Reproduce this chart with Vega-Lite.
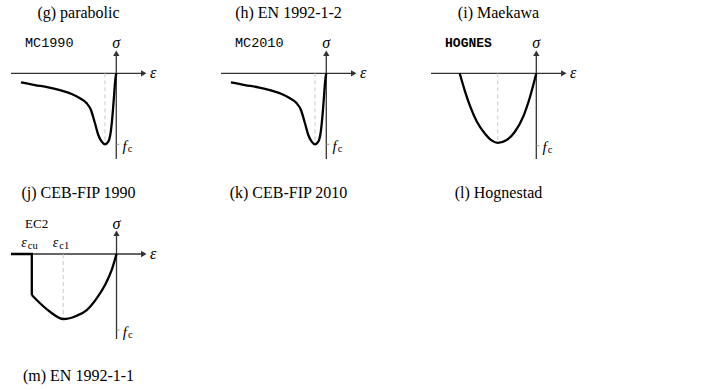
{
  "$schema": "https://vega.github.io/schema/vega-lite/v6.json",
  "background": "white",
  "padding": {"left": 0, "top": 5, "right": 5, "bottom": 5},
  "columns": 3,
  "spacing": {"row": 40, "column": 10},
  "bounds": "flush",
  "config": {
    "view": {"stroke": null},
    "title": {"font": "Liberation Serif", "fontSize": 16, "fontWeight": "normal", "color": "#000"}
  },
  "datasets": {
    "mc1990": [
      {"strain": -18.56, "stress": -0.127}, {"strain": -15.83, "stress": -0.165},
      {"strain": -13.24, "stress": -0.197}, {"strain": -10.63, "stress": -0.245},
      {"strain": -8.68, "stress": -0.292}, {"strain": -7.07, "stress": -0.352},
      {"strain": -5.76, "stress": -0.423}, {"strain": -4.93, "stress": -0.517},
      {"strain": -4.15, "stress": -0.704}, {"strain": -3.5, "stress": -0.869},
      {"strain": -2.84, "stress": -0.963}, {"strain": -2.2, "stress": -1.0},
      {"strain": -1.56, "stress": -0.963}, {"strain": -1.03, "stress": -0.799},
      {"strain": -0.7, "stress": -0.563}, {"strain": -0.45, "stress": -0.33},
      {"strain": -0.19, "stress": -0.094}, {"strain": 0, "stress": 0}
    ],
    "mc2010": [
      {"strain": -18.56, "stress": -0.127}, {"strain": -15.83, "stress": -0.165},
      {"strain": -13.24, "stress": -0.197}, {"strain": -10.63, "stress": -0.245},
      {"strain": -8.68, "stress": -0.292}, {"strain": -7.07, "stress": -0.352},
      {"strain": -5.76, "stress": -0.423}, {"strain": -4.93, "stress": -0.517},
      {"strain": -4.15, "stress": -0.704}, {"strain": -3.5, "stress": -0.869},
      {"strain": -2.84, "stress": -0.963}, {"strain": -2.2, "stress": -1.0},
      {"strain": -1.56, "stress": -0.963}, {"strain": -1.03, "stress": -0.799},
      {"strain": -0.7, "stress": -0.563}, {"strain": -0.45, "stress": -0.33},
      {"strain": -0.19, "stress": -0.094}, {"strain": 0, "stress": 0}
    ],
    "hognestad": [
      {"strain": -3.93, "stress": 0}, {"strain": -3.66, "stress": -0.25},
      {"strain": -3.4, "stress": -0.46}, {"strain": -3.06, "stress": -0.675},
      {"strain": -2.63, "stress": -0.85}, {"strain": -2.29, "stress": -0.945},
      {"strain": -1.98, "stress": -0.98}, {"strain": -1.52, "stress": -0.94},
      {"strain": -1.09, "stress": -0.82}, {"strain": -0.67, "stress": -0.61},
      {"strain": -0.32, "stress": -0.33}, {"strain": 0, "stress": 0}
    ],
    "ec2_cutoff": [
      {"strain": -4.36, "stress": 0, "step": 1},
      {"strain": -3.5, "stress": 0, "step": 2},
      {"strain": -3.5, "stress": -0.631, "step": 3}
    ],
    "ec2_curve": [
      {"strain": -3.5, "stress": -0.631}, {"strain": -3.16, "stress": -0.758},
      {"strain": -2.75, "stress": -0.888}, {"strain": -2.2, "stress": -1.0},
      {"strain": -1.64, "stress": -0.949}, {"strain": -1.23, "stress": -0.862},
      {"strain": -0.82, "stress": -0.682}, {"strain": -0.475, "stress": -0.477},
      {"strain": -0.198, "stress": -0.246}, {"strain": 0, "stress": 0}
    ]
  },
  "concat": [
    {
      "title": {"text": "(g) parabolic", "frame": "group", "anchor": "middle", "dx": -21.5, "offset": 9},
      "width": 200,
      "height": 140,
      "layer": [
        {"data": {"values": [{}]}, "mark": {"type": "rule", "color": "#333", "strokeWidth": 1.3},
         "encoding": {"x": {"datum": -20.5, "type": "quantitative", "scale": {"domain": [-22.64, 16.3], "nice": false, "zero": false}, "axis": null},
                      "x2": {"datum": 5.35},
                      "y": {"datum": 0, "type": "quantitative", "scale": {"domain": [-1.362, 0.61], "nice": false, "zero": false}, "axis": null}}},
        {"data": {"values": [{}]}, "mark": {"type": "rule", "color": "#333", "strokeWidth": 1.3},
         "encoding": {"x": {"datum": 0, "type": "quantitative", "axis": null}, "y": {"datum": 0.283, "type": "quantitative", "axis": null}, "y2": {"datum": -1.207}}},
        {"data": {"values": [{}]}, "mark": {"type": "point", "shape": "triangle-right", "filled": true, "size": 40, "color": "#333", "opacity": 1},
         "encoding": {"x": {"datum": 5.35, "type": "quantitative", "axis": null}, "y": {"datum": 0, "type": "quantitative", "axis": null}}},
        {"data": {"values": [{}]}, "mark": {"type": "point", "shape": "triangle-up", "filled": true, "size": 40, "color": "#333", "opacity": 1},
         "encoding": {"x": {"datum": 0, "type": "quantitative", "axis": null}, "y": {"datum": 0.283, "type": "quantitative", "axis": null}}},
        {"data": {"values": [{}]}, "mark": {"type": "rule", "color": "#c8c8c8", "strokeWidth": 1, "strokeDash": [4, 3]},
         "encoding": {"x": {"datum": -2.2, "type": "quantitative", "axis": null}, "y": {"datum": 0, "type": "quantitative", "axis": null}, "y2": {"datum": -1.0}}},
        {"data": {"values": [{}]}, "mark": {"type": "rule", "color": "#999", "strokeWidth": 1},
         "encoding": {"x": {"datum": 0, "type": "quantitative", "axis": null}, "x2": {"datum": 0.58}, "y": {"datum": -1.0, "type": "quantitative", "axis": null}}},
        {"data": {"name": "mc1990"}, "mark": {"type": "line", "interpolate": "monotone", "color": "#000", "strokeWidth": 2.3},
         "encoding": {"x": {"field": "strain", "type": "quantitative", "axis": null}, "y": {"field": "stress", "type": "quantitative", "axis": null}}},
        {"data": {"values": [{}]}, "mark": {"type": "text", "text": "σ", "font": "Liberation Serif", "fontStyle": "italic", "fontSize": 16, "align": "center", "baseline": "middle"},
         "encoding": {"x": {"datum": 0, "type": "quantitative", "axis": null}, "y": {"datum": 0.43, "type": "quantitative", "axis": null}}},
        {"data": {"values": [{}]}, "mark": {"type": "text", "text": "ε", "font": "Liberation Serif", "fontStyle": "italic", "fontSize": 16, "align": "center", "baseline": "middle"},
         "encoding": {"x": {"datum": 7.18, "type": "quantitative", "axis": null}, "y": {"datum": 0, "type": "quantitative", "axis": null}}},
        {"data": {"values": [{}]}, "mark": {"type": "text", "text": "MC1990", "font": "Liberation Mono", "fontSize": 13.5, "align": "left", "baseline": "middle"},
         "encoding": {"x": {"datum": -17.78, "type": "quantitative", "axis": null}, "y": {"datum": 0.43, "type": "quantitative", "axis": null}}},
        {"data": {"values": [{}]}, "mark": {"type": "text", "text": "f", "font": "Liberation Serif", "fontStyle": "italic", "fontSize": 15, "align": "center", "baseline": "middle", "dx": 8.2},
         "encoding": {"x": {"datum": 0, "type": "quantitative", "axis": null}, "y": {"datum": -1.02, "type": "quantitative", "axis": null}}},
        {"data": {"values": [{}]}, "mark": {"type": "text", "text": "c", "font": "Liberation Serif", "fontSize": 10.5, "align": "center", "baseline": "middle", "dx": 13.7, "dy": 3},
         "encoding": {"x": {"datum": 0, "type": "quantitative", "axis": null}, "y": {"datum": -1.02, "type": "quantitative", "axis": null}}},
        {"data": {"values": [{}]}, "mark": {"type": "text", "text": "(j) CEB-FIP 1990", "font": "Liberation Serif", "fontSize": 16, "align": "center", "baseline": "middle"},
         "encoding": {"x": {"datum": -7.36, "type": "quantitative", "axis": null}, "y": {"datum": -1.686, "type": "quantitative", "axis": null}}}
      ]
    },
    {
      "title": {"text": "(h) EN 1992-1-2", "frame": "group", "anchor": "middle", "dx": -21.5, "offset": 9},
      "width": 200,
      "height": 140,
      "layer": [
        {"data": {"values": [{}]}, "mark": {"type": "rule", "color": "#333", "strokeWidth": 1.3},
         "encoding": {"x": {"datum": -20.5, "type": "quantitative", "scale": {"domain": [-22.64, 16.3], "nice": false, "zero": false}, "axis": null},
                      "x2": {"datum": 5.35},
                      "y": {"datum": 0, "type": "quantitative", "scale": {"domain": [-1.362, 0.61], "nice": false, "zero": false}, "axis": null}}},
        {"data": {"values": [{}]}, "mark": {"type": "rule", "color": "#333", "strokeWidth": 1.3},
         "encoding": {"x": {"datum": 0, "type": "quantitative", "axis": null}, "y": {"datum": 0.283, "type": "quantitative", "axis": null}, "y2": {"datum": -1.207}}},
        {"data": {"values": [{}]}, "mark": {"type": "point", "shape": "triangle-right", "filled": true, "size": 40, "color": "#333", "opacity": 1},
         "encoding": {"x": {"datum": 5.35, "type": "quantitative", "axis": null}, "y": {"datum": 0, "type": "quantitative", "axis": null}}},
        {"data": {"values": [{}]}, "mark": {"type": "point", "shape": "triangle-up", "filled": true, "size": 40, "color": "#333", "opacity": 1},
         "encoding": {"x": {"datum": 0, "type": "quantitative", "axis": null}, "y": {"datum": 0.283, "type": "quantitative", "axis": null}}},
        {"data": {"values": [{}]}, "mark": {"type": "rule", "color": "#c8c8c8", "strokeWidth": 1, "strokeDash": [4, 3]},
         "encoding": {"x": {"datum": -2.2, "type": "quantitative", "axis": null}, "y": {"datum": 0, "type": "quantitative", "axis": null}, "y2": {"datum": -1.0}}},
        {"data": {"values": [{}]}, "mark": {"type": "rule", "color": "#999", "strokeWidth": 1},
         "encoding": {"x": {"datum": 0, "type": "quantitative", "axis": null}, "x2": {"datum": 0.58}, "y": {"datum": -1.0, "type": "quantitative", "axis": null}}},
        {"data": {"name": "mc2010"}, "mark": {"type": "line", "interpolate": "monotone", "color": "#000", "strokeWidth": 2.3},
         "encoding": {"x": {"field": "strain", "type": "quantitative", "axis": null}, "y": {"field": "stress", "type": "quantitative", "axis": null}}},
        {"data": {"values": [{}]}, "mark": {"type": "text", "text": "σ", "font": "Liberation Serif", "fontStyle": "italic", "fontSize": 16, "align": "center", "baseline": "middle"},
         "encoding": {"x": {"datum": 0, "type": "quantitative", "axis": null}, "y": {"datum": 0.43, "type": "quantitative", "axis": null}}},
        {"data": {"values": [{}]}, "mark": {"type": "text", "text": "ε", "font": "Liberation Serif", "fontStyle": "italic", "fontSize": 16, "align": "center", "baseline": "middle"},
         "encoding": {"x": {"datum": 7.18, "type": "quantitative", "axis": null}, "y": {"datum": 0, "type": "quantitative", "axis": null}}},
        {"data": {"values": [{}]}, "mark": {"type": "text", "text": "MC2010", "font": "Liberation Mono", "fontSize": 13.5, "align": "left", "baseline": "middle"},
         "encoding": {"x": {"datum": -17.78, "type": "quantitative", "axis": null}, "y": {"datum": 0.43, "type": "quantitative", "axis": null}}},
        {"data": {"values": [{}]}, "mark": {"type": "text", "text": "f", "font": "Liberation Serif", "fontStyle": "italic", "fontSize": 15, "align": "center", "baseline": "middle", "dx": 8.2},
         "encoding": {"x": {"datum": 0, "type": "quantitative", "axis": null}, "y": {"datum": -1.02, "type": "quantitative", "axis": null}}},
        {"data": {"values": [{}]}, "mark": {"type": "text", "text": "c", "font": "Liberation Serif", "fontSize": 10.5, "align": "center", "baseline": "middle", "dx": 13.7, "dy": 3},
         "encoding": {"x": {"datum": 0, "type": "quantitative", "axis": null}, "y": {"datum": -1.02, "type": "quantitative", "axis": null}}},
        {"data": {"values": [{}]}, "mark": {"type": "text", "text": "(k) CEB-FIP 2010", "font": "Liberation Serif", "fontSize": 16, "align": "center", "baseline": "middle"},
         "encoding": {"x": {"datum": -7.36, "type": "quantitative", "axis": null}, "y": {"datum": -1.686, "type": "quantitative", "axis": null}}}
      ]
    },
    {
      "title": {"text": "(i) Maekawa", "frame": "group", "anchor": "middle", "dx": -21.5, "offset": 9},
      "width": 200,
      "height": 140,
      "layer": [
        {"data": {"values": [{}]}, "mark": {"type": "rule", "color": "#333", "strokeWidth": 1.3},
         "encoding": {"x": {"datum": -5.4, "type": "quantitative", "scale": {"domain": [-5.964, 4.292], "nice": false, "zero": false}, "axis": null},
                      "x2": {"datum": 1.41},
                      "y": {"datum": 0, "type": "quantitative", "scale": {"domain": [-1.362, 0.61], "nice": false, "zero": false}, "axis": null}}},
        {"data": {"values": [{}]}, "mark": {"type": "rule", "color": "#333", "strokeWidth": 1.3},
         "encoding": {"x": {"datum": 0, "type": "quantitative", "axis": null}, "y": {"datum": 0.283, "type": "quantitative", "axis": null}, "y2": {"datum": -1.207}}},
        {"data": {"values": [{}]}, "mark": {"type": "point", "shape": "triangle-right", "filled": true, "size": 40, "color": "#333", "opacity": 1},
         "encoding": {"x": {"datum": 1.41, "type": "quantitative", "axis": null}, "y": {"datum": 0, "type": "quantitative", "axis": null}}},
        {"data": {"values": [{}]}, "mark": {"type": "point", "shape": "triangle-up", "filled": true, "size": 40, "color": "#333", "opacity": 1},
         "encoding": {"x": {"datum": 0, "type": "quantitative", "axis": null}, "y": {"datum": 0.283, "type": "quantitative", "axis": null}}},
        {"data": {"values": [{}]}, "mark": {"type": "rule", "color": "#c8c8c8", "strokeWidth": 1, "strokeDash": [4, 3]},
         "encoding": {"x": {"datum": -1.98, "type": "quantitative", "axis": null}, "y": {"datum": 0, "type": "quantitative", "axis": null}, "y2": {"datum": -0.98}}},
        {"data": {"values": [{}]}, "mark": {"type": "rule", "color": "#999", "strokeWidth": 1},
         "encoding": {"x": {"datum": 0, "type": "quantitative", "axis": null}, "x2": {"datum": 0.154}, "y": {"datum": -1.02, "type": "quantitative", "axis": null}}},
        {"data": {"name": "hognestad"}, "mark": {"type": "line", "interpolate": "monotone", "color": "#000", "strokeWidth": 2.3},
         "encoding": {"x": {"field": "strain", "type": "quantitative", "axis": null}, "y": {"field": "stress", "type": "quantitative", "axis": null}}},
        {"data": {"values": [{}]}, "mark": {"type": "text", "text": "σ", "font": "Liberation Serif", "fontStyle": "italic", "fontSize": 16, "align": "center", "baseline": "middle"},
         "encoding": {"x": {"datum": 0, "type": "quantitative", "axis": null}, "y": {"datum": 0.43, "type": "quantitative", "axis": null}}},
        {"data": {"values": [{}]}, "mark": {"type": "text", "text": "ε", "font": "Liberation Serif", "fontStyle": "italic", "fontSize": 16, "align": "center", "baseline": "middle"},
         "encoding": {"x": {"datum": 1.89, "type": "quantitative", "axis": null}, "y": {"datum": 0, "type": "quantitative", "axis": null}}},
        {"data": {"values": [{}]}, "mark": {"type": "text", "text": "HOGNES", "font": "Liberation Mono", "fontWeight": "bold", "fontSize": 13, "align": "left", "baseline": "middle"},
         "encoding": {"x": {"datum": -4.68, "type": "quantitative", "axis": null}, "y": {"datum": 0.43, "type": "quantitative", "axis": null}}},
        {"data": {"values": [{}]}, "mark": {"type": "text", "text": "f", "font": "Liberation Serif", "fontStyle": "italic", "fontSize": 15, "align": "center", "baseline": "middle", "dx": 8.2},
         "encoding": {"x": {"datum": 0, "type": "quantitative", "axis": null}, "y": {"datum": -1.04, "type": "quantitative", "axis": null}}},
        {"data": {"values": [{}]}, "mark": {"type": "text", "text": "c", "font": "Liberation Serif", "fontSize": 10.5, "align": "center", "baseline": "middle", "dx": 13.7, "dy": 3},
         "encoding": {"x": {"datum": 0, "type": "quantitative", "axis": null}, "y": {"datum": -1.04, "type": "quantitative", "axis": null}}},
        {"data": {"values": [{}]}, "mark": {"type": "text", "text": "(l) Hognestad", "font": "Liberation Serif", "fontSize": 16, "align": "center", "baseline": "middle"},
         "encoding": {"x": {"datum": -1.94, "type": "quantitative", "axis": null}, "y": {"datum": -1.686, "type": "quantitative", "axis": null}}}
      ]
    },
    {
      "width": 200,
      "height": 140,
      "layer": [
        {"data": {"values": [{}]}, "mark": {"type": "rule", "color": "#333", "strokeWidth": 1.3},
         "encoding": {"x": {"datum": -4.36, "type": "quantitative", "scale": {"domain": [-4.814, 3.45], "nice": false, "zero": false}, "axis": null},
                      "x2": {"datum": 1.128},
                      "y": {"datum": 0, "type": "quantitative", "scale": {"domain": [-1.477, 0.677], "nice": false, "zero": false}, "axis": null}}},
        {"data": {"values": [{}]}, "mark": {"type": "rule", "color": "#333", "strokeWidth": 1.3},
         "encoding": {"x": {"datum": 0, "type": "quantitative", "axis": null}, "y": {"datum": 0.32, "type": "quantitative", "axis": null}, "y2": {"datum": -1.308}}},
        {"data": {"values": [{}]}, "mark": {"type": "point", "shape": "triangle-right", "filled": true, "size": 40, "color": "#333", "opacity": 1},
         "encoding": {"x": {"datum": 1.128, "type": "quantitative", "axis": null}, "y": {"datum": 0, "type": "quantitative", "axis": null}}},
        {"data": {"values": [{}]}, "mark": {"type": "point", "shape": "triangle-up", "filled": true, "size": 40, "color": "#333", "opacity": 1},
         "encoding": {"x": {"datum": 0, "type": "quantitative", "axis": null}, "y": {"datum": 0.32, "type": "quantitative", "axis": null}}},
        {"data": {"values": [{}]}, "mark": {"type": "rule", "color": "#c8c8c8", "strokeWidth": 1, "strokeDash": [4, 3]},
         "encoding": {"x": {"datum": -2.2, "type": "quantitative", "axis": null}, "y": {"datum": 0, "type": "quantitative", "axis": null}, "y2": {"datum": -1.0}}},
        {"data": {"values": [{}]}, "mark": {"type": "rule", "color": "#999", "strokeWidth": 1},
         "encoding": {"x": {"datum": 0, "type": "quantitative", "axis": null}, "x2": {"datum": 0.124}, "y": {"datum": -1.17, "type": "quantitative", "axis": null}}},
        {"data": {"name": "ec2_cutoff"}, "mark": {"type": "line", "interpolate": "linear", "color": "#000", "strokeWidth": 2.3, "strokeJoin": "miter"},
         "encoding": {"x": {"field": "strain", "type": "quantitative", "axis": null}, "y": {"field": "stress", "type": "quantitative", "axis": null}, "order": {"field": "step"}}},
        {"data": {"name": "ec2_curve"}, "mark": {"type": "line", "interpolate": "monotone", "color": "#000", "strokeWidth": 2.3},
         "encoding": {"x": {"field": "strain", "type": "quantitative", "axis": null}, "y": {"field": "stress", "type": "quantitative", "axis": null}}},
        {"data": {"values": [{}]}, "mark": {"type": "text", "text": "σ", "font": "Liberation Serif", "fontStyle": "italic", "fontSize": 16, "align": "center", "baseline": "middle"},
         "encoding": {"x": {"datum": 0, "type": "quantitative", "axis": null}, "y": {"datum": 0.46, "type": "quantitative", "axis": null}}},
        {"data": {"values": [{}]}, "mark": {"type": "text", "text": "ε", "font": "Liberation Serif", "fontStyle": "italic", "fontSize": 16, "align": "center", "baseline": "middle"},
         "encoding": {"x": {"datum": 1.517, "type": "quantitative", "axis": null}, "y": {"datum": 0, "type": "quantitative", "axis": null}}},
        {"data": {"values": [{}]}, "mark": {"type": "text", "text": "EC2", "font": "Liberation Serif", "fontSize": 13, "align": "left", "baseline": "middle"},
         "encoding": {"x": {"datum": -3.78, "type": "quantitative", "axis": null}, "y": {"datum": 0.469, "type": "quantitative", "axis": null}}},
        {"data": {"values": [{}]}, "mark": {"type": "text", "text": "ε", "font": "Liberation Serif", "fontStyle": "italic", "fontSize": 14, "align": "right", "baseline": "middle", "dx": -5},
         "encoding": {"x": {"datum": -3.5, "type": "quantitative", "axis": null}, "y": {"datum": 0.165, "type": "quantitative", "axis": null}}},
        {"data": {"values": [{}]}, "mark": {"type": "text", "text": "cu", "font": "Liberation Serif", "fontSize": 10.5, "align": "left", "baseline": "middle", "dx": -4, "dy": 2.5},
         "encoding": {"x": {"datum": -3.5, "type": "quantitative", "axis": null}, "y": {"datum": 0.165, "type": "quantitative", "axis": null}}},
        {"data": {"values": [{}]}, "mark": {"type": "text", "text": "ε", "font": "Liberation Serif", "fontStyle": "italic", "fontSize": 14, "align": "right", "baseline": "middle", "dx": -5},
         "encoding": {"x": {"datum": -2.2, "type": "quantitative", "axis": null}, "y": {"datum": 0.165, "type": "quantitative", "axis": null}}},
        {"data": {"values": [{}]}, "mark": {"type": "text", "text": "c1", "font": "Liberation Serif", "fontSize": 10.5, "align": "left", "baseline": "middle", "dx": -4, "dy": 2.5},
         "encoding": {"x": {"datum": -2.2, "type": "quantitative", "axis": null}, "y": {"datum": 0.165, "type": "quantitative", "axis": null}}},
        {"data": {"values": [{}]}, "mark": {"type": "text", "text": "f", "font": "Liberation Serif", "fontStyle": "italic", "fontSize": 15, "align": "center", "baseline": "middle", "dx": 8.2},
         "encoding": {"x": {"datum": 0, "type": "quantitative", "axis": null}, "y": {"datum": -1.195, "type": "quantitative", "axis": null}}},
        {"data": {"values": [{}]}, "mark": {"type": "text", "text": "c", "font": "Liberation Serif", "fontSize": 10.5, "align": "center", "baseline": "middle", "dx": 13.7, "dy": 3},
         "encoding": {"x": {"datum": 0, "type": "quantitative", "axis": null}, "y": {"datum": -1.195, "type": "quantitative", "axis": null}}},
        {"data": {"values": [{}]}, "mark": {"type": "text", "text": "(m) EN 1992-1-1", "font": "Liberation Serif", "fontSize": 16, "align": "center", "baseline": "middle"},
         "encoding": {"x": {"datum": -1.57, "type": "quantitative", "axis": null}, "y": {"datum": -1.877, "type": "quantitative", "axis": null}}}
      ]
    }
  ]
}
